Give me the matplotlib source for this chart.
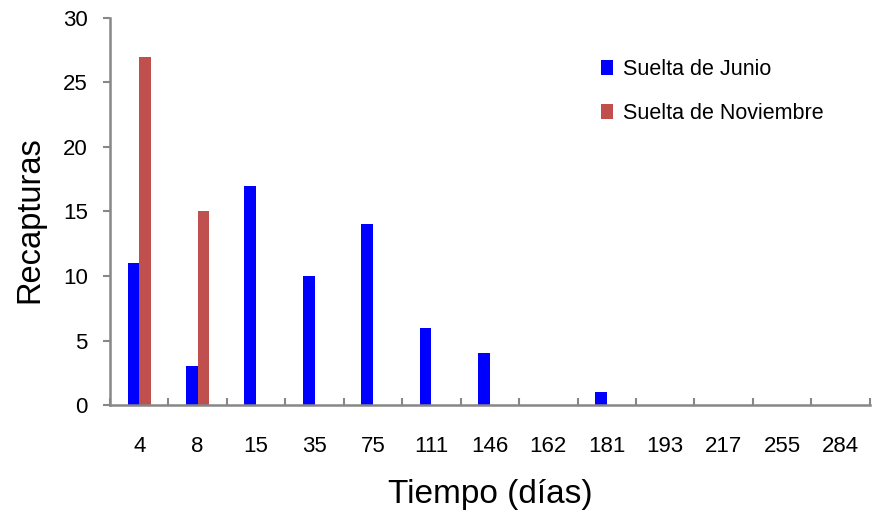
import numpy as np
import matplotlib.pyplot as plt

plt.rcParams["font.family"] = ["Liberation Sans", "DejaVu Sans"]

tiempos = ["4", "8", "15", "35", "75", "111", "146", "162", "181", "193", "217", "255", "284"]
junio = [11, 3, 17, 10, 14, 6, 4, 0, 1, 0, 0, 0, 0]
noviembre = [27, 15, 0, 0, 0, 0, 0, 0, 0, 0, 0, 0, 0]

x = np.arange(len(tiempos))
gris = "#878787"

fig = plt.figure(figsize=(8.75, 5.13), dpi=100)
ax = fig.add_axes([0.1257, 0.2105, 0.8683, 0.7545])

ax.bar(x - 0.1, junio, width=0.2, color="#0000FF", label="Suelta de Junio")
ax.bar(x + 0.1, noviembre, width=0.2, color="#C0504D", label="Suelta de Noviembre")

ax.set_xlim(-0.5, len(tiempos) - 0.5)
ax.set_ylim(0, 30)
ax.set_yticks(range(0, 31, 5))
ax.set_xticks(x)
ax.set_xticklabels(tiempos)
ax.set_xticks(np.arange(-0.5, len(tiempos)), minor=True)

ax.tick_params(axis="x", which="major", length=0, pad=22, labelsize=16)
ax.tick_params(axis="x", which="minor", direction="in", length=5, width=1.5, color=gris)
ax.tick_params(axis="y", direction="out", length=5, width=1.5, color=gris, pad=11, labelsize=16)

for s in ["top", "right"]:
    ax.spines[s].set_visible(False)
for s in ["left", "bottom"]:
    ax.spines[s].set_color(gris)
    ax.spines[s].set_linewidth(1.8)

ax.set_xlabel("Tiempo (días)", fontsize=24)
ax.set_ylabel("Recapturas", fontsize=23.5)
ax.xaxis.set_label_coords(0.5, -0.19)
ax.yaxis.set_label_coords(-0.085, 0.48)

ax.legend(loc="upper left", bbox_to_anchor=(0.635, 0.915), frameon=False, fontsize=15.5,
          handlelength=0.55, handleheight=0.7, handletextpad=0.45, labelspacing=1.05,
          borderaxespad=0)

plt.savefig("out.png", dpi=100)
